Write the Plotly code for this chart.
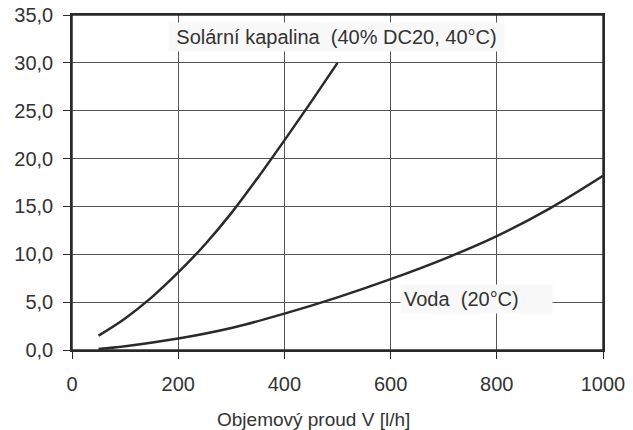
import plotly.graph_objects as go

# Data
solar_x = [50, 100, 150, 200, 250, 300, 350, 400, 450, 500]
solar_y = [1.5, 3.3, 5.5, 8.1, 11.0, 14.3, 18.0, 21.9, 25.9, 30.0]

water_x = [50, 100, 200, 300, 400, 500, 600, 700, 800, 900, 1000]
water_y = [0.1, 0.4, 1.2, 2.3, 3.8, 5.5, 7.4, 9.5, 11.9, 14.8, 18.2]

x_ticks = [0, 200, 400, 600, 800, 1000]
y_ticks = [0, 5, 10, 15, 20, 25, 30, 35]
y_tick_labels = ["0,0", "5,0", "10,0", "15,0", "20,0", "25,0", "30,0", "35,0"]

solar_label = "Solární kapalina  (40% DC20, 40°C)"
water_label = "Voda  (20°C)"
x_title = "Objemový proud V [l/h]"

FONT = "Liberation Sans, Arial, sans-serif"
LINE = "#2a2a2a"
GRID = "#555555"

fig = go.Figure()
fig.add_trace(go.Scatter(x=solar_x, y=solar_y, mode="lines",
                         line=dict(color=LINE, width=2.5, shape="spline"),
                         showlegend=False, hoverinfo="skip"))
fig.add_trace(go.Scatter(x=water_x, y=water_y, mode="lines",
                         line=dict(color=LINE, width=2.5, shape="spline"),
                         showlegend=False, hoverinfo="skip"))

W, H = 633, 430
L, R, T, B = 72, 30, 15, 80
plot_w = W - L - R
plot_h = H - T - B

fig.update_layout(
    width=W, height=H,
    margin=dict(l=L, r=R, t=T, b=B),
    paper_bgcolor="white", plot_bgcolor="white",
    font=dict(family=FONT, size=20, color="#333333"),
    xaxis=dict(range=[0, 1000], tickvals=x_ticks, ticks="outside", ticklen=7,
               tickcolor=LINE, showline=True, linecolor=LINE, linewidth=1.5,
               mirror=True, showgrid=True, gridcolor=GRID, gridwidth=1,
               zeroline=False, tickfont=dict(size=20, color="#333333"),
               ticklabelstandoff=8, automargin=False, ticklabeloverflow="allow"),
    yaxis=dict(range=[0, 35], tickvals=y_ticks, ticktext=y_tick_labels,
               ticks="outside", ticklen=7, tickcolor=LINE, showline=True,
               linecolor=LINE, linewidth=1.5, mirror=True, showgrid=True,
               gridcolor=GRID, gridwidth=1, zeroline=False,
               tickfont=dict(size=20, color="#333333"), ticklabelstandoff=6,
               automargin=False, ticklabeloverflow="allow"),
)

# plot frame
fig.add_shape(type="rect", xref="paper", yref="paper", x0=0, y0=0, x1=1, y1=1,
              line=dict(color=LINE, width=1.5), layer="above")

fig.add_annotation(x=498, y=32.65, xref="x", yref="y", text=solar_label,
                   showarrow=False, font=dict(size=20, color="#333333"),
                   bgcolor="#f8f8f8", borderpad=3, borderwidth=1,
                   bordercolor="rgba(0,0,0,0)", width=329, align="center")
fig.add_annotation(x=618, y=5.36, xref="x", yref="y", text=water_label,
                   xanchor="left", showarrow=False,
                   font=dict(size=20, color="#333333"),
                   bgcolor="#f8f8f8", borderpad=3, borderwidth=1,
                   bordercolor="rgba(0,0,0,0)", width=145, align="left")
fig.add_annotation(x=(313.5 - L) / plot_w, y=(H - B - 419) / plot_h,
                   xref="paper", yref="paper", text=x_title,
                   showarrow=False, xanchor="center", yanchor="middle",
                   font=dict(size=19, color="#333333",
                             family="Liberation Sans Narrow, Arial Narrow, Liberation Sans, Arial"))

fig.write_html("out.html", config={"displayModeBar": False},
               post_script="document.body.style.margin='0';document.body.style.overflow='hidden';")
